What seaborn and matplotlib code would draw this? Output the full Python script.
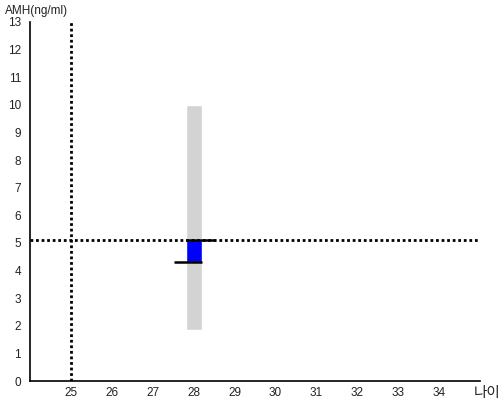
import matplotlib
matplotlib.use("Agg")
import matplotlib.pyplot as plt
import seaborn as sns

sns.set_style("white")
plt.rcParams['font.family'] = ['Noto Sans CJK KR', 'DejaVu Sans']

# data
ages = [28]
range_low = [1.85]
range_high = [10.0]
value_low = [4.3]
value_high = [5.1]
ref_age = 25
ref_amh = 5.1
x_ticks = list(range(25, 35))
y_ticks = list(range(0, 14))

fig = plt.figure(figsize=(5, 4), dpi=100)
ax = fig.add_axes([0.06, 0.0475, 0.90, 0.8975])

bw = 0.39
ax.bar(ages, [h - l for h, l in zip(range_high, range_low)], bottom=range_low,
       width=bw, color='#d3d3d3', zorder=1)
ax.bar(ages, [h - l for h, l in zip(value_high, value_low)], bottom=value_low,
       width=bw, color='#0000ff', zorder=2)
for a, hi, lo in zip(ages, value_high, value_low):
    ax.plot([a - bw / 2, a + 0.53], [hi, hi], color='black', lw=1.8, zorder=3, solid_capstyle='butt')
    ax.plot([a - 0.49, a + bw / 2], [lo, lo], color='black', lw=1.8, zorder=3, solid_capstyle='butt')

ax.axhline(ref_amh, color='black', ls=(0, (1, 1)), lw=2, zorder=2.5)
ax.axvline(ref_age, color='black', ls=(0, (1, 1)), lw=2, zorder=2.5)

ax.set_xlim(24, 35)
ax.set_ylim(0, 13)
ax.set_xticks(x_ticks)
ax.set_yticks(y_ticks)
sns.despine(ax=ax)
for s in ['left', 'bottom']:
    ax.spines[s].set_linewidth(1.2)
    ax.spines[s].set_color('black')
ax.tick_params(axis='both', direction='out', length=3, width=1, color='black',
               labelsize=8.5, labelcolor='#222222')
ax.tick_params(axis='x', pad=1.5)
ax.tick_params(axis='y', pad=3.5)
for lab in ax.get_xticklabels() + ax.get_yticklabels():
    lab.set_family(['Liberation Sans', 'DejaVu Sans'])

fig.text(0.01, 0.958, 'AMH(ng/ml)', fontsize=8.5, color='#222222', ha='left', va='bottom',
         family=['Liberation Sans', 'DejaVu Sans'])
fig.text(0.948, 0.0, '나이', fontsize=10.5, color='#222222', ha='left', va='bottom')

fig.savefig('out.png', dpi=100)
